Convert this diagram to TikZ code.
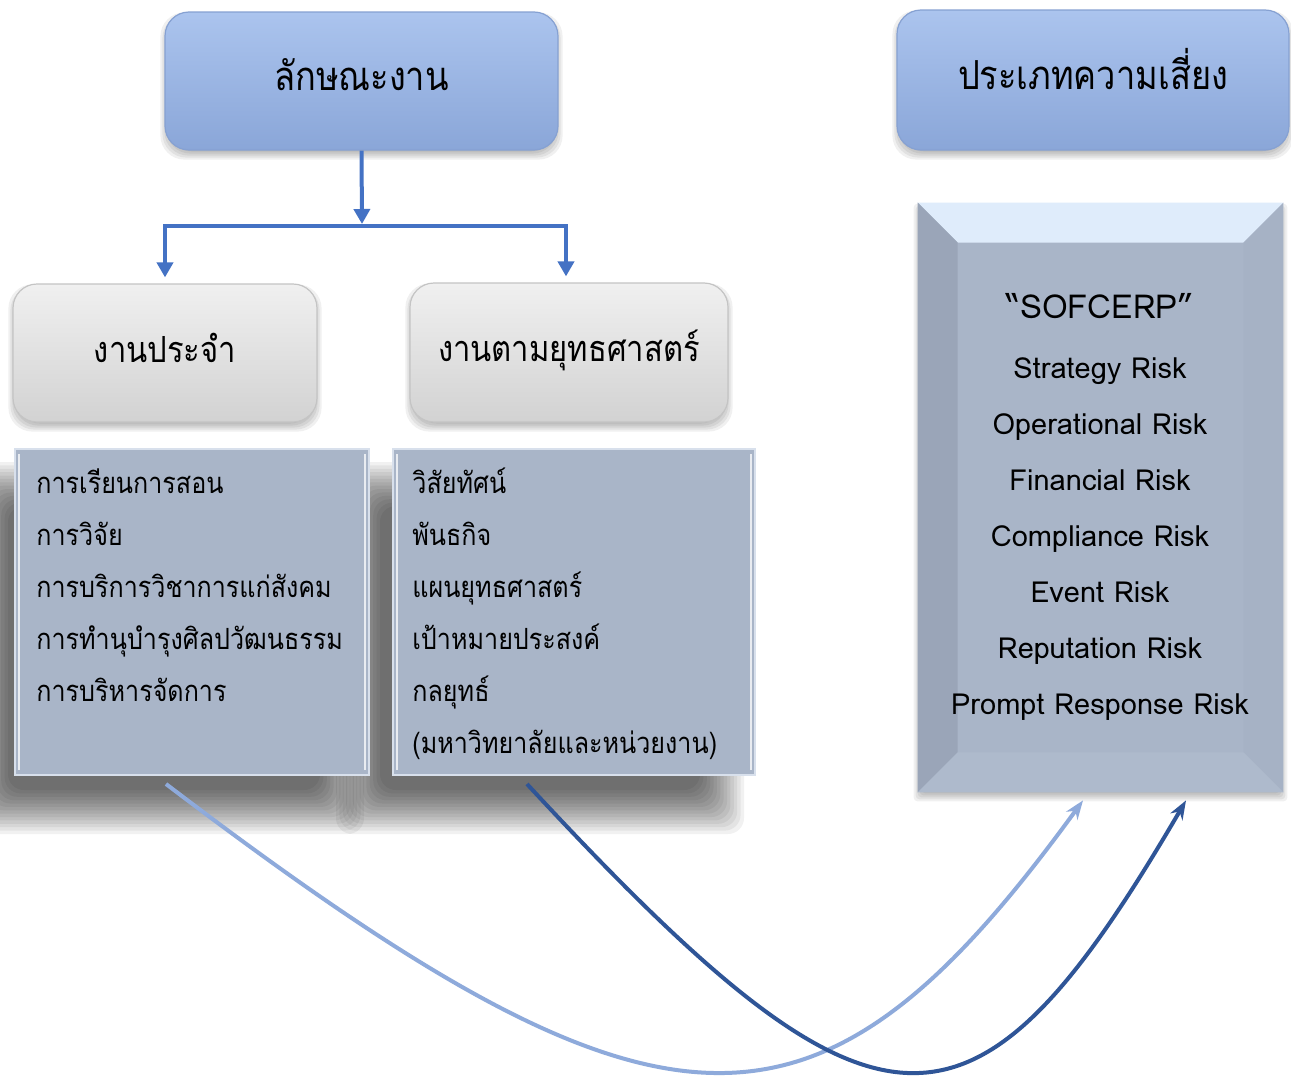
\documentclass[tikz,border=0pt]{standalone}
\usepackage{fontspec}
\setmainfont{Loma}
\newfontfamily\thaifont[Script=Thai, FakeStretch=0.86]{Loma}
\usetikzlibrary{arrows.meta,calc,backgrounds}

\definecolor{hdrTop}{HTML}{ABC4EE}
\definecolor{hdrBot}{HTML}{8AA6D8}
\definecolor{hdrEdge}{HTML}{86A1D2}
\definecolor{greyTop}{HTML}{F0F0F0}
\definecolor{greyBot}{HTML}{D2D2D2}
\definecolor{greyEdge}{HTML}{C4C4C4}
\definecolor{listFill}{HTML}{A9B5C8}
\definecolor{listEdge}{HTML}{D8E0EC}
\definecolor{linkBlue}{HTML}{4472C4}
\definecolor{curveLight}{HTML}{8EAADB}
\definecolor{curveDark}{HTML}{2F5597}
\definecolor{bevTop}{HTML}{DFECFB}
\definecolor{bevLeft}{HTML}{9AA5B8}
\definecolor{bevRight}{HTML}{A6B2C5}
\definecolor{bevBot}{HTML}{AEBACC}

% soft drop shadow under a named node:
% #1 node, #2/#3 offset (px), #4 blur half-width (px), #5 steps, #6 opacity per step, #7 corner radius
\newcommand\dropshade[7]{%
  \foreach \k in {1,...,#5}{%
    \pgfmathsetmacro\grow{#4-2*#4*(\k-1)/(#5-1)}%
    \pgfmathsetmacro\xa{#2-\grow}\pgfmathsetmacro\ya{#3+\grow}%
    \pgfmathsetmacro\xb{#2+\grow}\pgfmathsetmacro\yb{#3-\grow}%
    \fill[black, opacity=#6, rounded corners=#7]
      ($(#1.north west)+(\xa,\ya)$) rectangle ($(#1.south east)+(\xb,\yb)$);
  }}

\tikzset{
  hdrbox/.style={rounded corners=12pt, top color=hdrTop, bottom color=hdrBot,
    draw=hdrEdge, line width=0.6pt, inner sep=0pt,
    text height=12pt, text depth=3pt,
    font=\thaifont\fontsize{20}{24}\selectfont},
  greybox/.style={rounded corners=12pt, top color=greyTop, bottom color=greyBot,
    draw=greyEdge, line width=0.6pt, inner sep=0pt,
    text height=12pt, text depth=3pt,
    font=\thaifont\fontsize{18}{22}\selectfont},
  listbox/.style={fill=listFill, draw=listEdge, line width=1pt, inner sep=0pt},
  rimline/.style={draw=white, opacity=0.75, line width=0.8pt},
  riskbox/.style={fill=listFill, inner sep=0pt},
  listitem/.style={anchor=base west, inner sep=0pt, font=\thaifont\fontsize{14.6}{16}\selectfont},
  riskitem/.style={anchor=base, inner sep=0pt, font=\fontsize{14.5}{16}\selectfont},
  link/.style={draw=linkBlue, line width=2pt, -{Triangle[length=7.5pt,width=8pt]}},
  flowcurve/.style={line width=2pt, -{Stealth[length=9.5pt,width=7pt]}},
}

\begin{document}
\begin{tikzpicture}[x=0.5pt,y=0.5pt]
\useasboundingbox (0,0) rectangle (1291,-1076);

% header boxes
\node[hdrbox, minimum width=196.5pt, minimum height=69pt] (kind) at (361.5,-81) {ลักษณะงาน};
\node[hdrbox, minimum width=196pt, minimum height=70pt] (types) at (1093,-80) {ประเภทความเสี่ยง};

% work-type boxes
\node[greybox, minimum width=152pt, minimum height=69pt] (routine) at (165,-353) {งานประจำ};
\node[greybox, minimum width=159pt, minimum height=69.5pt] (strategic) at (569,-352.5) {งานตามยุทธศาสตร์};

% branch connector
\coordinate (split) at (362,-226);
\draw[link] (kind.south) -- ([yshift=1pt]split);
\draw[link] (split) -| ([yshift=3pt]routine.north);
\draw[link] (split) -| ([xshift=-1.5pt,yshift=3pt]strategic.north);

% list boxes
\node[listbox, minimum width=177pt, minimum height=163pt] (listA) at (192,-612) {};
\node[listbox, minimum width=181pt, minimum height=163pt] (listB) at (574,-612) {};
\foreach \b in {listA,listB}{
  \draw[rimline] ($(\b.north west)+(5,-6)$) -- ($(\b.south west)+(5,6)$);
  \draw[rimline] ($(\b.north east)+(-5,-6)$) -- ($(\b.south east)+(-5,6)$);
}

\node[listitem] (a1) at (36,-493) {การเรียนการสอน};
\node[listitem] (a2) at (36,-545) {การวิจัย};
\node[listitem] (a3) at (36,-597) {การบริการวิชาการแก่สังคม};
\node[listitem] (a4) at (36,-649) {การทำนุบำรุงศิลปวัฒนธรรม};
\node[listitem] (a5) at (36,-701) {การบริหารจัดการ};

\node[listitem] (b1) at (412,-493) {วิสัยทัศน์};
\node[listitem] (b2) at (412,-545) {พันธกิจ};
\node[listitem] (b3) at (412,-597) {แผนยุทธศาสตร์};
\node[listitem] (b4) at (412,-649) {เป้าหมายประสงค์};
\node[listitem] (b5) at (412,-701) {กลยุทธ์};
\node[listitem] (b6) at (412,-753) {(มหาวิทยาลัยและหน่วยงาน)};

% bevelled risk panel
\node[riskbox, minimum width=182.5pt, minimum height=294.5pt] (risk) at (1100.5,-497.5) {};
\fill[bevTop] (risk.north west) -- (risk.north east) -- ($(risk.north east)+(-40,-40)$) -- ($(risk.north west)+(40,-40)$) -- cycle;
\fill[bevLeft] (risk.north west) -- ($(risk.north west)+(40,-40)$) -- ($(risk.south west)+(40,40)$) -- (risk.south west) -- cycle;
\fill[bevRight] (risk.north east) -- ($(risk.north east)+(-40,-40)$) -- ($(risk.south east)+(-40,40)$) -- (risk.south east) -- cycle;
\fill[bevBot] (risk.south west) -- ($(risk.south west)+(40,40)$) -- ($(risk.south east)+(-40,40)$) -- (risk.south east) -- cycle;

\node[riskitem, font=\fontsize{16.5}{18}\selectfont] (r0) at (1100,-318) {“SOFCERP”};
\node[riskitem] (r1) at (1100,-378) {Strategy Risk};
\node[riskitem] (r2) at (1100,-434) {Operational Risk};
\node[riskitem] (r3) at (1100,-490) {Financial Risk};
\node[riskitem] (r4) at (1100,-546) {Compliance Risk};
\node[riskitem] (r5) at (1100,-602) {Event Risk};
\node[riskitem] (r6) at (1100,-658) {Reputation Risk};
\node[riskitem] (r7) at (1100,-714) {Prompt Response Risk};

% links from work types to risk panel
\draw[flowcurve, curveLight] ($(listA.south)+(-26,-8)$) .. controls (667,-1165) and (818,-1165) .. ($(risk.south)+(-17.5,-8)$);
\draw[flowcurve, curveDark] ($(listB.south)+(-47,-8)$) .. controls (880,-1165) and (973,-1165) .. ($(risk.south)+(85.5,-8)$);

% page ground and shadows
\begin{scope}[on background layer]
  \fill[white] (0,0) rectangle (1291,-1076);
  \dropshade{kind}{0}{-5}{4}{5}{0.06}{12pt}
  \dropshade{types}{0}{-5}{4}{5}{0.06}{12pt}
  \dropshade{routine}{0}{-5}{4}{5}{0.06}{12pt}
  \dropshade{strategic}{0}{-5}{4}{5}{0.06}{12pt}
  \dropshade{risk}{0}{-5}{4}{5}{0.06}{2pt}
  \dropshade{listA}{-28}{-36}{22}{14}{0.055}{8pt}
  \dropshade{listB}{-34}{-36}{22}{14}{0.055}{8pt}
\end{scope}
\end{tikzpicture}
\end{document}
